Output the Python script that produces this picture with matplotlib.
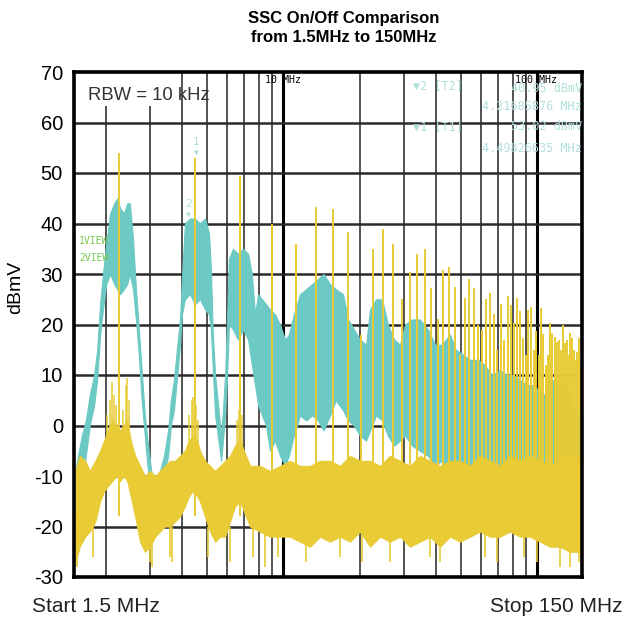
import matplotlib.pyplot as plt
from matplotlib.ticker import NullLocator

plt.rcParams['font.family'] = ['Liberation Sans', 'DejaVu Sans']
plt.rcParams['axes.unicode_minus'] = False

W, H = 626, 619

# SSC on (cyan) trace envelope: frequency (MHz), upper and lower level (dBmV)
cyan_f = [1.52, 1.555, 1.61, 1.67, 1.73, 1.80, 1.85, 1.90, 1.95, 2.01,
          2.08, 2.16, 2.22, 2.28, 2.36, 2.43, 2.49, 2.56, 2.63, 2.70,
          2.77, 2.85, 2.92, 3.02, 3.15, 3.27, 3.39, 3.52, 3.61, 3.71,
          3.81, 3.92, 3.99, 4.10, 4.29, 4.49, 4.70, 4.92, 5.10, 5.19,
          5.27, 5.39, 5.59, 5.69, 5.79, 5.90, 6.00, 6.11, 6.34, 6.63,
          6.94, 7.27, 7.52, 7.74, 7.96, 8.25, 8.55, 8.87, 9.28, 9.71,
          10.16, 10.52, 11.0, 11.64, 12.3, 13.0, 13.7, 14.4, 15.27, 16.1,
          17.2, 18.0, 19.0, 20.05, 21.2, 21.95, 23.2, 24.5, 25.8, 27.3,
          28.8, 30.2, 32.1, 34.5, 37.1, 39.6, 42.1, 45.3, 47.8, 51.2,
          54.3, 58.4, 62.0, 66.3, 71.3, 75.6, 80.1, 85.5, 90.8, 95.9,
          101.5, 106.4, 111.5, 122.9, 130.1, 136.3, 142.6, 149.3]
cyan_hi = [-9, -6, -2, 1, 6, 10, 15, 24, 30, 36,
           42, 44, 45, 43, 42, 44, 44, 37, 27, 19,
           11, 2, -3, -9, -11, -9, -6, -1, 5, 9,
           15, 21, 29, 40, 41, 41, 40, 41, 38, 31,
           19, 10, 2, -2, 3, 10, 20, 33, 35, 34,
           35, 34, 30, 22, 26, 25, 24, 23, 22, 20,
           17, 18, 22, 26, 27, 28, 29, 30, 28, 27,
           26, 21, 19, 17, 16, 23, 25, 25, 20, 17,
           16, 20, 21, 21, 19, 16, 16, 18, 15, 14,
           13, 13, 12, 10, 11, 10, 10, 9, 8, 8,
           7, 6, 9, 9, 8, 5, 3, 2]
cyan_lo = [-17, -15, -12, -6, 0, 4, 9, 18, 23, 28,
           30, 28, 27, 26, 27, 28, 30, 27, 21, 14,
           5, -2, -8, -14, -15, -13, -10, -6, 0, 3,
           9, 16, 22, 25, 26, 24, 25, 23, 22, 19,
           12, 2, -4, -7, -3, 2, 9, 20, 19, 17,
           19, 17, 12, 8, 4, 2, 0, -5, -3, -6,
           -8, -6, -2, 2, 1, 2, 1, -1, 2, 5,
           3, 1, 0, -2, -3, -1, 2, 1, -2, -4,
           -3, -2, -4, -5, -6, -8, -7, -9, -8, -9,
           -10, -9, -10, -9, -10, -9, -11, -10, -11, -10,
           -12, -11, -12, -12, -12, -13, -12, -13]

# SSC off (yellow) trace: dense broadband floor envelope
yel_f = [1.52, 1.58, 1.66, 1.73, 1.82, 1.90, 1.97, 2.04, 2.12, 2.21,
         2.28, 2.36, 2.43, 2.51, 2.61, 2.73, 2.85, 2.99, 3.13, 3.27,
         3.42, 3.58, 3.75, 3.92, 4.10, 4.25, 4.41, 4.58, 4.70, 4.92,
         5.15, 5.39, 5.64, 5.90, 6.17, 6.46, 6.76, 7.0, 7.40, 8.10,
         8.87, 9.71, 10.63, 11.64, 12.74, 13.95, 15.27, 16.72, 18.31, 20.05,
         21.95, 24.03, 26.31, 28.81, 31.54, 34.53, 37.81, 41.40, 45.33, 49.62,
         54.34, 59.49, 65.13, 71.32, 78.08, 85.49, 93.6, 102.5, 112.2, 122.9,
         134.5, 147.3, 150]
yel_hi = [-9, -6, -7, -9, -7, -5, -3, -1, 1, 0,
          -1, 0, 1, -3, -6, -8, -10, -9, -10, -9,
          -8, -7, -7, -6, -5, -3, -2, -3, -5, -7,
          -8, -9, -8, -7, -6, -4, -3, -5, -8, -8,
          -9, -8, -7, -8, -8, -7, -7, -8, -6, -7,
          -7, -8, -6, -7, -8, -6, -7, -8, -7, -7,
          -8, -6, -7, -8, -6, -7, -6, -7, -8, -7,
          -6, -7, -8]
yel_lo = [-27, -24, -22, -21, -19, -15, -13, -12, -11, -10,
          -11, -10, -11, -14, -18, -23, -25, -24, -22, -21,
          -20, -20, -19, -18, -16, -14, -13, -14, -15, -18,
          -21, -23, -22, -22, -19, -16, -15, -17, -20, -21,
          -22, -22, -22, -23, -24, -22, -23, -22, -23, -21,
          -24, -22, -23, -22, -24, -23, -22, -24, -22, -23,
          -22, -21, -22, -22, -21, -22, -22, -23, -24, -24,
          -25, -25, -26]

# sparse sideband lines standing above the floor near the first harmonics
skirt_f = [2.02, 2.08, 2.12, 2.16, 2.19, 2.33, 2.40, 2.43, 2.47,
           4.27, 4.36, 4.41, 4.55, 4.62, 6.55, 6.68, 6.85]
skirt_db = [2, 5, 8.6, 6, 4, 3, 8, 9.4, 5,
            2, 5, 5.6, 4, 1, 1, 3, 2]

# deep dips of the yellow floor
dip_f = [1.54, 1.79, 2.99, 3.04, 3.58, 3.66, 5.06, 6.17, 7.63, 8.48,
         9.57, 12.3, 16.7, 20.5, 26.3, 37.8, 41.4, 62.0, 69.5, 89.0,
         100.0, 122.9, 134.5, 146.0]
dip_db = [-28, -26, -27, -28, -26, -27, -26, -27, -26, -28,
          -26, -27, -26, -27, -27, -26, -27, -26, -27, -26,
          -27, -28, -28, -27]

# SSC off harmonics of the 2.249 MHz switching frequency
harm_f = [2.25, 4.50, 6.75, 9.00, 11.25, 13.49, 15.74, 17.99, 20.24, 22.49,
          24.74, 26.99, 29.24, 31.49, 33.74, 35.98, 38.23, 40.48, 42.73, 44.98,
          47.23, 49.48, 51.73, 53.98, 56.23, 58.47, 60.72, 62.97, 65.22, 67.47,
          69.72, 71.97, 74.22, 76.47, 78.72, 80.96, 83.21, 85.46, 87.71, 89.96,
          92.21, 94.46, 96.71, 98.96, 101.21, 103.45, 105.70, 107.95, 110.20, 112.45,
          114.70, 116.95, 119.20, 121.45, 123.70, 125.94, 128.19, 130.44, 132.69, 134.94,
          137.19, 139.44, 141.69, 143.94, 146.19, 148.43]
harm_db = [54, 53, 49.5, 40, 36, 43.3, 42.9, 38.3, 18, 35,
           39, 36, 25, 30.4, 34, 35, 27.3, 21, 30.8, 31.4,
           27.5, 14, 25.3, 29, 27.3, 20, 19, 25, 26.3, 22,
           15, 24, 17, 25.6, 23.8, 20.3, 25.3, 22.7, 17.3, 14,
           22.9, 23.5, 15, 18.7, 14, 23.3, 18.1, 12, 14, 20.3,
           18.3, 17.5, 16.5, 16.9, 15, 19.9, 16.3, 16.9, 14, 18.3,
           17.3, 15, 13, 14.6, 17.3, 12]

minor_grid = [2, 3, 4, 5, 6, 7, 8, 9, 20, 30, 40, 50, 60, 70, 80, 90]
major_grid = [10, 100]
yticks = [70, 60, 50, 40, 30, 20, 10, 0, -10, -20, -30]

CYAN = '#6cc9c3'
YELLOW = '#e8cb35'
MARK = '#b0e0dc'

fig = plt.figure(figsize=(W / 100, H / 100), dpi=100)
ax = fig.add_axes([74 / W, 1 - 577 / H, 508 / W, 505 / H])
ax.set_xscale('log')
ax.set_xlim(1.5, 150)
ax.set_ylim(-30, 70)

# grid
for v in minor_grid:
    ax.axvline(v, color='#444444', lw=1.3, zorder=1)
for v in major_grid:
    ax.axvline(v, color='black', lw=2.2, zorder=1)
for v in yticks[1:-1]:
    ax.axhline(v, color='#2a2a2a', lw=1.8, zorder=1)

# white box behind RBW label
ax.fill_between([1.5, 3.55], 63.2, 70, color='white', lw=0, zorder=1.5)

# traces
ax.fill_between(cyan_f, cyan_lo, cyan_hi, color=CYAN, lw=0.8, edgecolor=CYAN, zorder=2)
ax.fill_between(yel_f, yel_lo, yel_hi, color=YELLOW, lw=0.8, edgecolor=YELLOW, zorder=3)
ax.vlines(skirt_f, -5, skirt_db, color=YELLOW, lw=1.1, zorder=3)
ax.vlines(dip_f, -20, dip_db, color=YELLOW, lw=1.2, zorder=3)
ax.vlines(harm_f, -18, harm_db, color=YELLOW, lw=1.4, zorder=3)

ax.set_yticks(yticks)
ax.tick_params(axis='y', length=0, pad=8, labelsize=14.5)
ax.set_xticks([])
ax.xaxis.set_minor_locator(NullLocator())
for s in ax.spines.values():
    s.set_linewidth(2.6)
    s.set_zorder(5)


def ftext(x, y, s, **kw):
    fig.text(x / W, 1 - y / H, s, **kw)


ftext(344, 18, 'SSC On/Off Comparison', ha='center', va='center',
      fontsize=12, fontweight='bold')
ftext(344, 38, 'from 1.5MHz to 150MHz', ha='center', va='center',
      fontsize=12, fontweight='bold')
ftext(16, 287, 'dBmV', rotation=90, ha='center', va='center', fontsize=14)
ftext(32, 606, 'Start 1.5 MHz', ha='left', va='center', fontsize=15, color='#222222')
ftext(622, 606, 'Stop 150 MHz', ha='right', va='center', fontsize=15, color='#222222')
ftext(88, 95, 'RBW = 10 kHz', ha='left', va='center', fontsize=13.3, color='#333333')

mono = dict(family='DejaVu Sans Mono', va='center')
ftext(265, 80, '10 MHz', fontsize=7.2, color='black', **mono)
ftext(515, 80, '100 MHz', fontsize=7.2, color='black', **mono)
ftext(413, 86, '\u25bc2 [T2]', fontsize=8.5, color=MARK, ha='left', **mono)
ftext(582, 88, '40.95 dBmV', fontsize=8.5, color=MARK, ha='right', **mono)
ftext(582, 107, '4.21685876 MHz', fontsize=8.5, color=MARK, ha='right', **mono)
ftext(413, 127, '\u25bc1 [T1]', fontsize=8.5, color=MARK, ha='left', **mono)
ftext(582, 127, '53.02 dBmV', fontsize=8.5, color=MARK, ha='right', **mono)
ftext(582, 148, '4.49826635 MHz', fontsize=8.5, color=MARK, ha='right', **mono)
ftext(79, 241, '1VIEW', fontsize=7, color='#77c94f', ha='left', **mono)
ftext(79, 258, '2VIEW', fontsize=7, color='#77c94f', ha='left', **mono)

# trace markers
ftext(196, 142, '1', fontsize=8, color=MARK, ha='center', **mono)
ftext(196, 152, '\u25bc', fontsize=6, color=MARK, ha='center', **mono)
ftext(188, 204, '2', fontsize=8, color=MARK, ha='center', **mono)
ftext(188, 214, '\u25bc', fontsize=6, color=MARK, ha='center', **mono)

fig.savefig('out.png', dpi=100)
